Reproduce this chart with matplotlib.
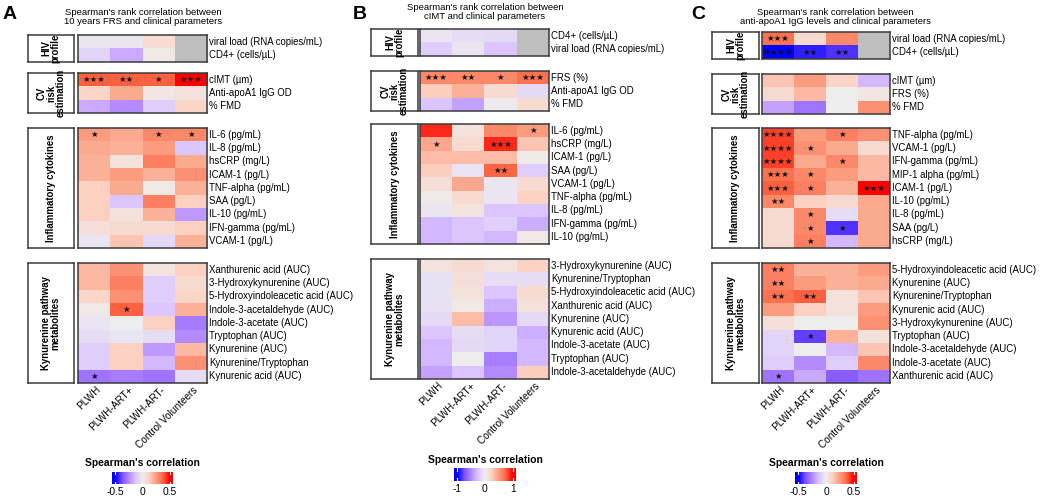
import numpy as np
import matplotlib.pyplot as plt
from matplotlib.colors import LinearSegmentedColormap, Normalize

plt.rcParams['font.family'] = ['Liberation Sans', 'DejaVu Sans']

W, H = 1040, 499
nan = np.nan

groups = ['PLWH', 'PLWH-ART+', 'PLWH-ART-', 'Control Volunteers']
block_names = ['HIV\nprofile', 'CV\nrisk\nestimation', 'Inflammatory cytokines',
               'Kynurenine pathway\nmetabolites']

# ---- panel A: 10 years FRS vs clinical parameters
a_rows = [
    ['viral load (RNA copies/mL)', 'CD4+ (cells/µL)'],
    ['cIMT (µm)', 'Anti-apoA1 IgG OD', '% FMD'],
    ['IL-6 (pg/mL)', 'IL-8 (pg/mL)', 'hsCRP (mg/L)', 'ICAM-1 (pg/L)', 'TNF-alpha (pg/mL)',
     'SAA (pg/L)', 'IL-10 (pg/mL)', 'IFN-gamma (pg/mL)', 'VCAM-1 (pg/L)'],
    ['Xanthurenic acid (AUC)', '3-Hydroxykynurenine (AUC)', '5-Hydroxyindoleacetic acid (AUC)',
     'Indole-3-acetaldehyde (AUC)', 'Indole-3-acetate (AUC)', 'Tryptophan (AUC)',
     'Kynurenine (AUC)', 'Kynurenine/Tryptophan', 'Kynurenic acid (AUC)'],
]
a_vals = [
    [[-0.02, -0.02, 0.07, nan], [-0.08, -0.18, 0.02, nan]],
    [[0.38, 0.38, 0.38, 0.5], [0.1, 0.22, 0.03, 0.05], [-0.18, -0.25, -0.1, 0.1]],
    [[0.25, 0.22, 0.3, 0.3], [0.22, 0.2, 0.25, -0.12], [0.2, 0.05, 0.32, 0.22],
     [0.2, 0.25, 0.2, 0.28], [0.12, 0.22, 0.02, 0.2], [0.12, -0.12, 0.32, 0.12],
     [0.12, 0.05, 0.2, -0.22], [0.06, 0.08, 0.08, 0.12], [-0.03, 0.15, -0.07, 0.2]],
    [[0.18, 0.28, 0.04, 0.12], [0.18, 0.32, -0.1, 0.08], [0.1, 0.28, -0.1, 0.1],
     [0.02, 0.38, -0.12, 0.2], [-0.03, 0.0, 0.12, -0.28], [-0.05, -0.03, -0.05, -0.25],
     [-0.1, 0.12, -0.22, 0.18], [-0.1, 0.12, -0.15, 0.28], [-0.3, -0.28, -0.3, -0.05]],
]
a_stars = [
    [['', '', '', ''], ['', '', '', '']],
    [['***', '**', '*', '***'], ['', '', '', ''], ['', '', '', '']],
    [['*', '', '*', '*']] + [['', '', '', '']] * 8,
    [['', '', '', '']] * 3 + [['', '*', '', '']] + [['', '', '', '']] * 4 + [['*', '', '', '']],
]

# ---- panel B: cIMT vs clinical parameters
b_rows = [
    ['CD4+ (cells/µL)', 'viral load (RNA copies/mL)'],
    ['FRS (%)', 'Anti-apoA1 IgG OD', '% FMD'],
    ['IL-6 (pg/mL)', 'hsCRP (mg/L)', 'ICAM-1 (pg/L)', 'SAA (pg/L)', 'VCAM-1 (pg/L)',
     'TNF-alpha (pg/mL)', 'IL-8 (pg/mL)', 'IFN-gamma (pg/mL)', 'IL-10 (pg/mL)'],
    ['3-Hydroxykynurenine (AUC)', 'Kynurenine/Tryptophan', '5-Hydroxyindoleacetic acid (AUC)',
     'Xanthurenic acid (AUC)', 'Kynurenine (AUC)', 'Kynurenic acid (AUC)',
     'Indole-3-acetate (AUC)', 'Tryptophan (AUC)', 'Indole-3-acetaldehyde (AUC)'],
]
b_vals = [
    [[-0.05, -0.1, -0.12, nan], [-0.2, -0.07, -0.25, nan]],
    [[0.6, 0.6, 0.6, 0.7], [0.25, 0.4, 0.15, -0.12], [-0.25, -0.4, -0.03, 0.15]],
    [[0.9, 0.1, 0.6, 0.5], [0.45, 0.15, 0.9, 0.3], [0.35, 0.35, 0.35, 0.03],
     [0.25, -0.07, 0.75, -0.2], [0.12, 0.45, -0.05, 0.15], [0.03, 0.15, -0.05, 0.22],
     [-0.05, 0.08, -0.25, -0.25], [-0.3, -0.25, -0.18, -0.35], [-0.3, -0.25, -0.3, 0.05]],
    [[0.08, 0.15, 0.08, 0.22], [-0.08, 0.12, -0.1, -0.1], [-0.08, 0.1, -0.25, 0.15],
     [-0.08, 0.05, -0.35, 0.1], [-0.12, 0.35, -0.45, -0.12], [-0.25, -0.1, -0.15, -0.35],
     [-0.3, -0.12, -0.15, -0.3], [-0.3, 0.0, -0.55, -0.3], [-0.4, -0.25, -0.5, 0.25]],
]
b_stars = [
    [['', '', '', ''], ['', '', '', '']],
    [['***', '**', '*', '***'], ['', '', '', ''], ['', '', '', '']],
    [['', '', '', '*'], ['*', '', '***', ''], ['', '', '', ''], ['', '', '**', '']]
    + [['', '', '', '']] * 5,
    [['', '', '', '']] * 9,
]

# ---- panel C: anti-apoA1 IgG vs clinical parameters
c_rows = [
    ['viral load (RNA copies/mL)', 'CD4+ (cells/µL)'],
    ['cIMT (µm)', 'FRS (%)', '% FMD'],
    ['TNF-alpha (pg/mL)', 'VCAM-1 (pg/L)', 'IFN-gamma (pg/mL)', 'MIP-1 alpha (pg/mL)',
     'ICAM-1 (pg/L)', 'IL-10 (pg/mL)', 'IL-8 (pg/mL)', 'SAA (pg/L)', 'hsCRP (mg/L)'],
    ['5-Hydroxyindoleacetic acid (AUC)', 'Kynurenine (AUC)', 'Kynurenine/Tryptophan',
     'Kynurenic acid (AUC)', '3-Hydroxykynurenine (AUC)', 'Tryptophan (AUC)',
     'Indole-3-acetaldehyde (AUC)', 'Indole-3-acetate (AUC)', 'Xanthurenic acid (AUC)'],
]
c_vals = [
    [[0.35, 0.08, 0.3, nan], [-0.55, -0.45, -0.42, nan]],
    [[0.15, 0.25, 0.1, -0.15], [0.08, 0.18, 0.0, 0.03], [-0.2, -0.3, 0.0, 0.28]],
    [[0.42, 0.25, 0.32, 0.28], [0.42, 0.28, 0.22, 0.08], [0.42, 0.22, 0.3, 0.18],
     [0.35, 0.3, 0.25, 0.18], [0.38, 0.32, 0.2, 0.5], [0.3, 0.12, 0.08, 0.22],
     [0.08, 0.3, -0.05, 0.22], [0.08, 0.3, -0.42, 0.22], [0.08, 0.32, -0.15, 0.22]],
    [[0.32, 0.2, 0.2, 0.25], [0.32, 0.25, 0.2, 0.22], [0.35, 0.38, 0.05, 0.15],
     [0.25, 0.12, 0.05, 0.25], [0.06, 0.0, 0.0, 0.28], [-0.08, -0.4, 0.2, 0.05],
     [-0.08, 0.0, -0.15, 0.15], [-0.1, -0.25, -0.1, 0.3], [-0.3, -0.18, -0.35, -0.3]],
]
c_stars = [
    [['***', '', '', ''], ['****', '**', '**', '']],
    [['', '', '', '']] * 3,
    [['****', '', '*', ''], ['****', '*', '', ''], ['****', '', '*', ''], ['***', '*', '', ''],
     ['***', '*', '', '***'], ['**', '', '', ''], ['', '*', '', ''], ['', '*', '*', ''],
     ['', '*', '', '']],
    [['**', '', '', ''], ['**', '', '', ''], ['**', '**', '', '']] + [['', '', '', '']] * 2
    + [['', '*', '', '']] + [['', '', '', '']] * 2 + [['*', '', '', '']],
]

titles = ["Spearman's rank correlation between\n10 years FRS and clinical parameters",
          "Spearman's rank correlation between\ncIMT and clinical parameters",
          "Spearman's rank correlation between\nanti-apoA1 IgG levels and clinical parameters"]

# colour ramp blue - white - red (LAB style interpolation)
cmap = LinearSegmentedColormap.from_list('spear', [
    (0.0, '#0000ff'), (0.125, '#7e51ff'), (0.25, '#b38bff'), (0.375, '#dcc5ff'),
    (0.5, '#eeeeee'), (0.625, '#fdcfbf'), (0.75, '#fb9e81'), (0.875, '#fb6846'),
    (1.0, '#ff0000')])
cmap.set_bad('#bebebe')

fig = plt.figure(figsize=(W / 100, H / 100), dpi=100)


def frac(x0, y0, x1, y1):
    return [x0 / W, 1 - y1 / H, (x1 - x0) / W, (y1 - y0) / H]


def draw_panel(letter, lx, ty, title, tx, hx, bx, tops, rows, vals, stars, vmax, cb):
    rh = 13.3
    fig.text(lx / W, 1 - 6 / H, letter, fontsize=14, fontweight='bold', va='top', ha='left')
    fig.text(tx / W, 1 - ty / H, title, fontsize=6.8, ha='center', va='center', linespacing=1.0)
    norm = Normalize(-vmax, vmax)
    for k in range(4):
        n = len(rows[k])
        top = tops[k]
        bot = top + n * rh
        ax = fig.add_axes(frac(hx[0], top, hx[1], bot))
        ax.imshow(np.ma.masked_invalid(np.array(vals[k])), cmap=cmap, norm=norm,
                  aspect='auto', interpolation='nearest', extent=(0, 4, n, 0))
        ax.set_xlim(0, 4)
        ax.set_ylim(n, 0)
        ax.set_xticks([])
        ax.set_yticks([])
        for s in ax.spines.values():
            s.set_color('#3a3a3a')
            s.set_linewidth(1.1)
        for i, r in enumerate(rows[k]):
            ax.text(4.06, i + 0.5, r, fontsize=6.9, va='center', ha='left', clip_on=False)
            for j in range(4):
                if stars[k][i][j]:
                    ax.text(j + 0.5, i + 0.52, '★' * len(stars[k][i][j]), fontsize=6.1,
                            family='DejaVu Sans', color='#111111', ha='center',
                            va='center')
        lax = fig.add_axes(frac(bx[0], top, bx[1], bot))
        lax.set_xticks([])
        lax.set_yticks([])
        for s in lax.spines.values():
            s.set_color('#3a3a3a')
            s.set_linewidth(1.1)
        lax.text(0.5, 0.5, block_names[k], rotation=90, fontsize=6.9, fontweight='bold',
                 ha='center', va='center', linespacing=0.9, transform=lax.transAxes,
                 clip_on=False)
        if k == 3:
            for j, g in enumerate(groups):
                ax.text(j + 0.55, n + 0.15, g, rotation=45, rotation_mode='anchor',
                        fontsize=7.2, ha='right', va='top', clip_on=False)
    # colour legend
    cx0, cy0, cx1, cy1, cty = cb
    fig.text((cx0 + cx1) / 2 / W, 1 - cty / H, "Spearman's correlation", fontsize=7.4,
             fontweight='bold', ha='center', va='center')
    cax = fig.add_axes(frac(cx0, cy0, cx1, cy1))
    ext = vmax * 1.12
    grad = np.linspace(-ext, ext, 256)[None, :]
    cax.imshow(grad, cmap=cmap, norm=norm, aspect='auto', extent=(-ext, ext, 0, 1))
    cax.set_xlim(-ext, ext)
    cax.set_yticks([])
    ticks = [-vmax, 0, vmax]
    cax.set_xticks(ticks)
    cax.set_xticklabels(['%g' % t for t in ticks], fontsize=7.4)
    cax.tick_params(axis='x', length=0, pad=2)
    for s in cax.spines.values():
        s.set_visible(False)
    for t in (-vmax, vmax):
        cax.plot([t, t], [0, 0.2], color='white', lw=0.8)
        cax.plot([t, t], [0.8, 1], color='white', lw=0.8)


draw_panel('A', 3, 17, titles[0], 143, (78, 207), (28, 74), [35, 73, 128, 263],
           a_rows, a_vals, a_stars, 0.5, (112, 472, 173, 484, 463))
draw_panel('B', 353, 12, titles[1], 485, (420, 549), (371, 418), [29, 71, 124, 259],
           b_rows, b_vals, b_stars, 1.0, (454, 468, 516, 481, 460))
draw_panel('C', 691, 17, titles[2], 835, (762, 890), (712, 759), [32, 74, 128, 263],
           c_rows, c_vals, c_stars, 0.5, (795, 472, 857, 484, 463))

fig.savefig('out.png', dpi=100)
